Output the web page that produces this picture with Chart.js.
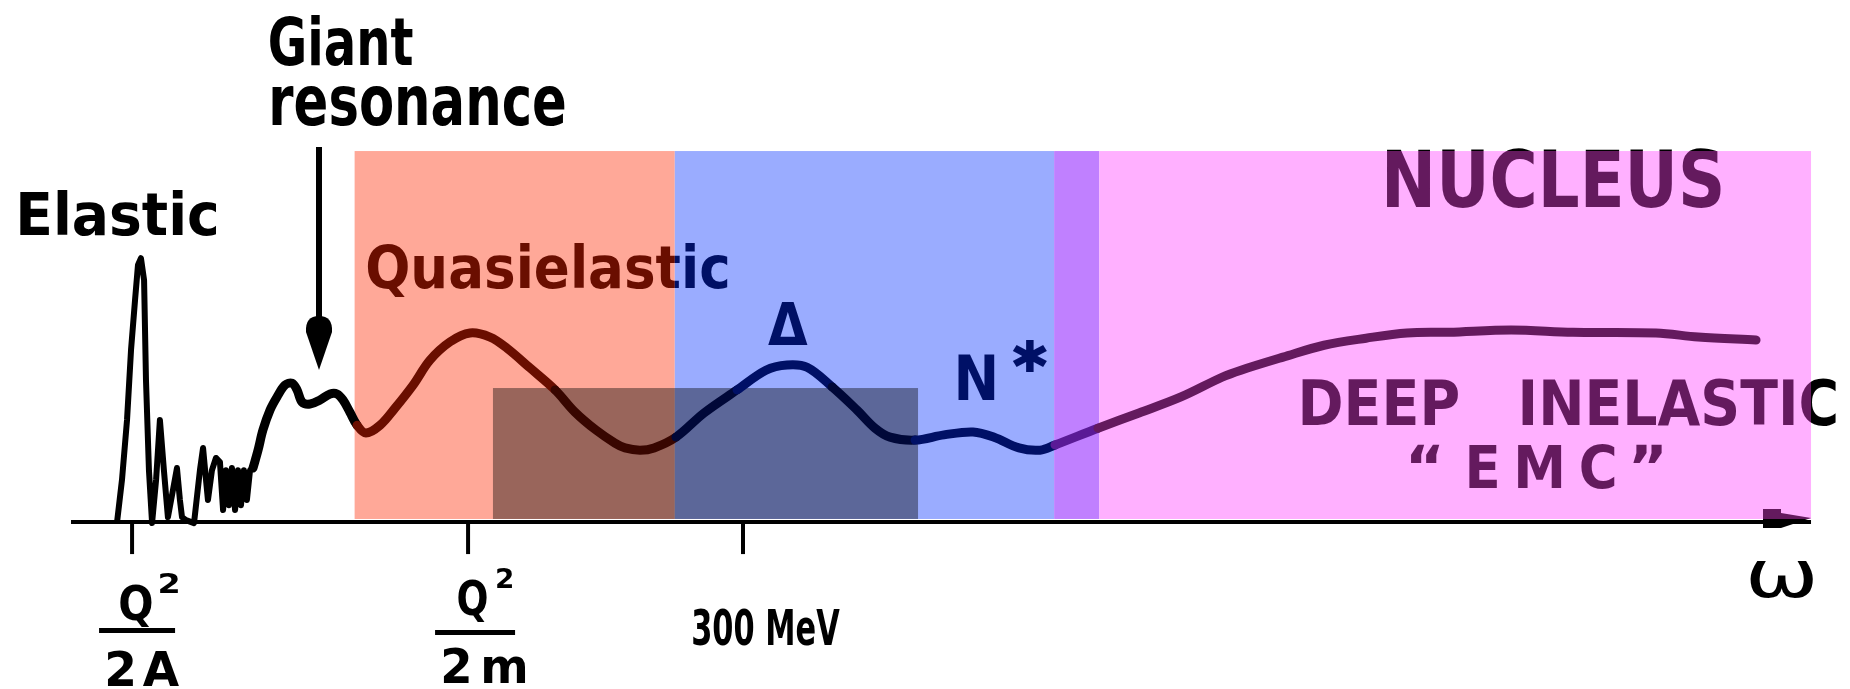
<!DOCTYPE html>
<html>
<head>
<meta charset="utf-8">
<script src="https://cdn.jsdelivr.net/npm/chart.js@4.4.1/dist/chart.umd.min.js"></script>
<style>
  html, body { margin: 0; background: #fff; }
  canvas { display: block; }
</style>
</head>
<body>
<canvas id="responseChart" width="1850" height="689"></canvas>
<script>
// energy transfer (arbitrary units along the axis) and response
const omegaLow = [2.64, 2.93, 3.22, 3.45, 3.68, 3.85, 4.02, 4.20, 4.31, 4.48, 4.66, 4.89, 5.11, 5.34, 5.57,
  5.86, 6.09, 6.26, 6.38, 6.61, 7.07, 7.41, 7.59, 7.76, 7.87, 8.10, 8.33, 8.56, 8.74, 8.91,
  9.08, 9.25, 9.43, 9.60, 9.77, 9.94, 10.11, 10.29, 10.46];
const responseLow = [0, 11.6, 27.7, 46.5, 59.9, 69.4, 71.2, 65.3, 38.4, 14.2, 0, 11.6, 27.7, 14.2, 1.6,
  8.9, 14.8, 6.2, 1.6, 0.8, 0, 14.2, 20.2, 11.6, 6.2, 14.2, 17.5, 16.4, 3.5, 14.2,
  4.8, 14.8, 3.5, 14.2, 4.8, 14.2, 6.2, 14.2, 14.8];

const omegaMain = [10.46, 10.75, 11.03, 11.44, 11.84, 12.30, 12.70, 12.99, 13.28, 13.74, 14.31, 14.89, 15.29,
  15.63, 16.03, 16.44, 16.95, 17.76, 18.62, 19.66, 20.63, 21.78, 22.93, 24.08, 25.06, 26.38, 27.82,
  28.97, 30.17, 31.26, 31.84, 32.70, 33.51, 34.77, 36.38, 38.28, 39.94, 41.15, 42.30, 43.74, 45.17,
  46.21, 47.07, 48.51, 50.17, 51.84, 53.05, 54.48, 55.69, 56.55, 59.02, 61.38, 63.79, 66.15, 67.24,
  69.66, 72.01, 74.43, 76.78, 79.20, 82.76, 86.32, 91.09, 93.51, 96.84];
const responseMain = [14.8, 19.6, 25.0, 30.4, 33.9, 37.1, 37.6, 35.8, 32.5, 32.0, 33.1, 34.7, 34.7,
  33.1, 29.8, 26.3, 24.2, 26.3, 30.9, 37.1, 43.8, 48.7, 51.1, 50.0, 47.0, 41.7, 35.8,
  29.8, 25.0, 21.5, 20.2, 19.6, 20.2, 23.1, 29.6, 35.8, 41.1, 42.5, 41.9, 36.6, 30.4,
  25.5, 23.1, 22.3, 23.7, 24.5, 23.1, 20.2, 19.6, 21.0, 25.5, 29.6, 33.9, 39.2, 41.1,
  44.6, 47.8, 49.7, 51.1, 51.3, 51.9, 51.3, 51.1, 50.0, 49.2];

// tick marks on the omega axis
const tickOmega = [3.51, 22.82, 38.62];

// shaded regions
const regionFrom = [16.3, 34.7, 56.5, 59.1];
const regionTo = [34.7, 56.5, 59.1, 100];
const regionTop = 100;
const regionBottom = 1.1;
const shadeFrom = 24.25, shadeTo = 48.68, shadeTop = 36.3;

const regionFill = ['#ffa898', '#9aacff', '#c080ff', '#ffb0ff'];
const regionInk = ['#6a0e00', '#001066', '#5a1a96', '#641a5e'];
const shadeInk = ['#380600', '#000838', '#300050', '#300030'];

const X_MIN = -4.08, X_MAX = 102.24, Y_MIN = -44.6, Y_MAX = 140.6;
const FONT = '"DejaVu Sans", sans-serif';

function inkAt(u, v) {
  if (v < regionBottom || v > regionTop) return '#000';
  for (let i = 0; i < regionFrom.length; i++) {
    if (u >= regionFrom[i] && u < regionTo[i]) {
      if (u >= shadeFrom && u <= shadeTo && v <= shadeTop) return shadeInk[i];
      return regionInk[i];
    }
  }
  return '#000';
}

function segInk(c) {
  return inkAt((c.p0.parsed.x + c.p1.parsed.x) / 2, (c.p0.parsed.y + c.p1.parsed.y) / 2);
}

// draws something in black outside the regions and in each region's ink colour inside it
function drawInk(chart, drawFn) {
  const { ctx, scales: { x, y } } = chart;
  const t = y.getPixelForValue(regionTop), b = y.getPixelForValue(regionBottom);
  const l0 = x.getPixelForValue(regionFrom[0]);
  const r0 = x.getPixelForValue(regionTo[regionTo.length - 1]);
  ctx.save();
  ctx.beginPath();
  ctx.rect(0, 0, chart.width, chart.height);
  ctx.rect(l0, t, r0 - l0, b - t);
  ctx.clip('evenodd');
  ctx.fillStyle = '#000';
  drawFn(ctx);
  ctx.restore();
  regionFrom.forEach((from, i) => {
    const l = x.getPixelForValue(from), r = x.getPixelForValue(regionTo[i]);
    ctx.save();
    ctx.beginPath();
    ctx.rect(l, t, r - l, b - t);
    ctx.clip();
    ctx.fillStyle = regionInk[i];
    drawFn(ctx);
    ctx.restore();
  });
}

function fitText(ctx, text, left, base, size, width, weight, spacing) {
  ctx.save();
  ctx.font = `${weight || 'bold'} ${size}px ${FONT}`;
  ctx.letterSpacing = (spacing || 0) + 'px';
  ctx.textAlign = 'left';
  ctx.textBaseline = 'alphabetic';
  const m = ctx.measureText(text);
  const inkW = m.actualBoundingBoxLeft + m.actualBoundingBoxRight - (spacing || 0);
  ctx.translate(left, base);
  ctx.scale(width / inkW, 1);
  ctx.fillText(text, m.actualBoundingBoxLeft, 0);
  ctx.restore();
}

const regionPlugin = {
  id: 'regions',
  beforeDatasetsDraw(chart) {
    const { ctx, scales: { x, y } } = chart;
    const t = y.getPixelForValue(regionTop), b = y.getPixelForValue(regionBottom);
    ctx.save();
    regionFrom.forEach((from, i) => {
      const l = x.getPixelForValue(from), r = x.getPixelForValue(regionTo[i]);
      ctx.fillStyle = regionFill[i];
      ctx.fillRect(l, t, r - l, b - t);
    });
    const sl = x.getPixelForValue(shadeFrom), sr = x.getPixelForValue(shadeTo);
    const st = y.getPixelForValue(shadeTop);
    ctx.fillStyle = 'rgba(0,0,0,0.4)';
    ctx.fillRect(sl, st, sr - sl, b - st);

    // omega axis
    const y0 = y.getPixelForValue(0);
    ctx.strokeStyle = '#000';
    ctx.lineWidth = 4;
    ctx.beginPath();
    ctx.moveTo(x.getPixelForValue(0), y0 - 1);
    ctx.lineTo(x.getPixelForValue(100), y0 - 1);
    ctx.stroke();
    tickOmega.forEach(w => {
      const px = x.getPixelForValue(w);
      ctx.beginPath();
      ctx.moveTo(px, y0);
      ctx.lineTo(px, y0 + 31);
      ctx.stroke();
    });
    ctx.restore();
  },
  afterDatasetsDraw(chart) {
    const { scales: { x, y } } = chart;
    const tp = tickOmega.map(w => x.getPixelForValue(w));
    const y0 = y.getPixelForValue(0);
    const endX = x.getPixelForValue(100);

    drawInk(chart, ctx => {
      fitText(ctx, 'Elastic', 20, 235, 59, 197);
      fitText(ctx, 'Giant', 270, 65, 66, 143);
      fitText(ctx, 'resonance', 272, 125, 70, 293);
      fitText(ctx, 'Quasielastic', 367, 288, 59, 361);
      fitText(ctx, '\u0394', 768, 345, 59, 40);
      fitText(ctx, 'N', 958, 400, 62, 37);
      fitText(ctx, '\u2731', 1012, 372, 44, 36);
      fitText(ctx, 'NUCLEUS', 1387, 207, 78, 334);
      fitText(ctx, 'DEEP', 1302, 425, 62, 156);
      fitText(ctx, 'INELASTIC', 1522, 425, 62, 314);
      fitText(ctx, '\u201C', 1411, 488, 59, 29);
      fitText(ctx, 'EMC', 1469, 488, 59, 133, 'bold', 14);
      fitText(ctx, '\u201D', 1633, 488, 59, 29);

      // arrow pointing at the giant resonance
      ctx.fillRect(316, 147, 6, 180);
      ctx.beginPath();
      ctx.moveTo(319, 370);
      ctx.lineTo(306, 332);
      ctx.quadraticCurveTo(305, 316, 319, 316);
      ctx.quadraticCurveTo(333, 316, 332, 332);
      ctx.closePath();
      ctx.fill();

      // arrow end of the omega axis
      ctx.beginPath();
      ctx.moveTo(endX - 48, y0 + 5);
      ctx.lineTo(endX - 48, y0 - 14);
      ctx.lineTo(endX - 30, y0 - 14);
      ctx.lineTo(endX - 30, y0 - 10);
      ctx.lineTo(endX, y0 - 5);
      ctx.lineTo(endX - 30, y0 + 5);
      ctx.closePath();
      ctx.fill();

      // tick labels
      fitText(ctx, 'Q', tp[0] - 12, 620, 48, 32);
      fitText(ctx, '2', tp[0] + 28, 593, 26, 18);
      ctx.fillRect(tp[0] - 33, 628, 76, 5);
      fitText(ctx, '2A', tp[0] - 25, 686, 48, 66, 'bold', 6);

      fitText(ctx, 'Q', tp[1] - 10, 615, 48, 29);
      fitText(ctx, '2', tp[1] + 29, 588, 26, 15);
      ctx.fillRect(tp[1] - 33, 630, 80, 5);
      fitText(ctx, '2m', tp[1] - 25, 683, 48, 75, 'bold', 8);

      fitText(ctx, '300 MeV', tp[2] - 50, 645, 50, 147);

      fitText(ctx, '\u03C9', 1750, 597, 66, 63, 'normal');
    });
  }
};

new Chart(document.getElementById('responseChart'), {
  type: 'line',
  data: {
    datasets: [
      {
        label: 'Elastic and giant resonance',
        data: omegaLow.map((w, i) => ({ x: w, y: responseLow[i] })),
        borderColor: '#000',
        borderWidth: 6,
        tension: 0,
        borderJoinStyle: 'round',
        segment: { borderColor: segInk }
      },
      {
        label: 'Response',
        data: omegaMain.map((w, i) => ({ x: w, y: responseMain[i] })),
        borderColor: '#000',
        borderWidth: 9,
        tension: 0.35,
        borderCapStyle: 'round',
        borderJoinStyle: 'round',
        segment: { borderColor: segInk }
      }
    ]
  },
  options: {
    responsive: false,
    animation: false,
    events: [],
    layout: { padding: 0 },
    elements: { point: { radius: 0 } },
    plugins: {
      legend: { display: false },
      tooltip: { enabled: false }
    },
    scales: {
      x: { type: 'linear', min: X_MIN, max: X_MAX, display: false },
      y: { type: 'linear', min: Y_MIN, max: Y_MAX, display: false }
    }
  },
  plugins: [regionPlugin]
});
</script>
</body>
</html>
